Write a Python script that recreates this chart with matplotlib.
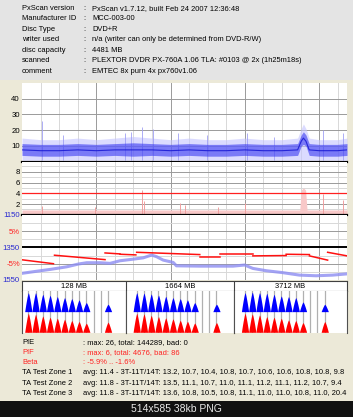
import numpy as np
import matplotlib
matplotlib.use("Agg")
import matplotlib.pyplot as plt
from matplotlib.patches import Rectangle

plt.rcParams['font.family'] = ['Liberation Sans', 'DejaVu Sans']

W, H = 353, 417

# ---- data ----
info_labels = ["PxScan version", "Manufacturer ID", "Disc Type", "writer used",
               "disc capacity", "scanned", "comment"]
info_values = ["PxScan v1.7.12, built Feb 24 2007 12:36:48", "MCC-003-00", "DVD+R",
               "n/a (writer can only be determined from DVD-R/W)", "4481 MB",
               "PLEXTOR DVDR PX-760A 1.06 TLA: #0103 @ 2x (1h25m18s)",
               "EMTEC 8x purn 4x px760v1.06"]

capacity_mb = 4481

# PIE band (MB position, lower haze, dense low, average, dense high, upper haze)
pie_mb   = [0, 256, 512, 768, 1024, 1280, 1536, 1792, 2048, 2304, 2560, 2816, 3072,
            3328, 3584, 3800, 3850, 3880, 3915, 3960, 4096, 4352, 4481]
pie_lo   = [4, 3.5, 3.5, 4, 3.5, 4, 3.5, 4, 3.5, 4, 3.5, 3.5, 4,
            3.5, 3.5, 4, 10, 11, 10, 4, 3.5, 3.5, 4]
pie_avg  = [7.5, 7, 7, 7.5, 7, 7.5, 7.5, 7.5, 7, 7.5, 7, 7, 7.5,
            7, 7, 7.5, 13, 15, 13, 7.5, 7, 7, 7.5]
pie_hi   = [11.5, 11, 11, 11.5, 11, 11.5, 12, 11.5, 11, 11.5, 11, 11, 11.5,
            11, 11, 11.5, 17, 19, 17, 11.5, 11, 11, 11.5]
pie_top  = [15, 14, 14, 15, 14, 15, 16, 15, 14, 15, 14, 14, 15,
            14, 14, 15, 21, 24, 21, 15, 14, 14, 15]
pie_spike_mb  = [275, 560, 1420, 1500, 1650, 1805, 2150, 2550, 3100, 3480, 4150, 4420]
pie_spike_val = [26, 17, 18, 19, 22, 21, 18, 17, 18, 16, 20, 18]

# PIF band and spikes
pif_mb   = [0, 3830, 3850, 3880, 3910, 3930, 4481]
pif_base = [0.9, 0.9, 4.6, 5.0, 4.6, 0.9, 0.9]
pif_spike_mb  = [275, 1010, 1650, 1680, 2180, 2250, 2700, 3070, 4150, 4420]
pif_spike_val = [1.6, 1.4, 4.7, 2.5, 2.2, 1.8, 1.5, 2.2, 3.8, 2.7]
pif_limit = 4

# Beta segments (%)
beta_x0 = [0, 448, 1145, 1351, 1581, 2451, 2726, 3183, 3642, 3963, 4214]
beta_x1 = [434, 1145, 1351, 1570, 2451, 2726, 3183, 3642, 3963, 4214, 4481]
beta_y0 = [-3.8, -2.4, -1.7, -2.1, -1.5, -2.8, -2.0, -2.6, -2.1, -2.6, -1.5]
beta_y1 = [-5.0, -3.75, -2.0, -2.3, -2.2, -2.8, -2.0, -2.5, -2.2, -3.9, -2.6]

# Jitter curve
jit_mb  = [0, 160, 389, 618, 778, 893, 1076, 1214, 1351, 1535, 1672, 1787, 1856,
           1947, 2084, 2130, 2451, 2909, 3070, 3183, 3367, 3596, 3825, 4054, 4283, 4467]
jit_val = [1509, 1499, 1485, 1469, 1452, 1444, 1444, 1448, 1432, 1422, 1414, 1397, 1407,
           1428, 1442, 1463, 1465, 1465, 1458, 1479, 1493, 1505, 1520, 1524, 1520, 1513]

# TA histograms
ta_zones = ["128 MB", "1664 MB", "3712 MB"]
ta_marks = [3, 4, 5, 6, 7, 8, 9, 10, 11, 14]
ta_blue = [[0.92, 0.92, 0.84, 0.79, 0.73, 0.68, 0.63, 0.57, 0.44, 0.36],
           [0.92, 0.90, 0.86, 0.80, 0.74, 0.68, 0.63, 0.57, 0.44, 0.36],
           [0.92, 0.95, 0.92, 0.89, 0.84, 0.76, 0.73, 0.68, 0.47, 0.36]]
ta_red = [[0.92, 0.87, 0.79, 0.73, 0.68, 0.63, 0.57, 0.52, 0.44, 0.49],
          [0.92, 0.89, 0.82, 0.76, 0.70, 0.65, 0.58, 0.53, 0.45, 0.47],
          [0.92, 0.89, 0.84, 0.76, 0.73, 0.68, 0.60, 0.57, 0.47, 0.52]]

stat_labels = ["PIE", "PIF", "Beta", "TA Test Zone 1", "TA Test Zone 2", "TA Test Zone 3"]
stat_values = [": max: 26, total: 144289, bad: 0",
               ": max: 6, total: 4676, bad: 86",
               ": -5.9% .. -1.6%",
               "avg: 11.4 - 3T-11T/14T: 13.2, 10.7, 10.4, 10.8, 10.7, 10.6, 10.6, 10.8, 10.8, 9.8",
               "avg: 11.8 - 3T-11T/14T: 13.5, 11.1, 10.7, 11.0, 11.1, 11.2, 11.1, 11.2, 10.7, 9.4",
               "avg: 11.8 - 3T-11T/14T: 13.6, 10.8, 10.5, 10.8, 11.1, 11.0, 11.0, 10.8, 11.0, 20.4"]
stat_colors = ["black", "#FF2020", "#FF2020", "black", "black", "black"]

# ---- layout helpers (pixel coords, origin top-left) ----
fig = plt.figure(figsize=(W / 100, H / 100), dpi=100)
fig.patch.set_facecolor('#ECE9D8')


def rect(x0, y0, x1, y1):
    return [x0 / W, 1 - y1 / H, (x1 - x0) / W, (y1 - y0) / H]


def ftext(x, y, s, **kw):
    kw.setdefault('fontsize', 5.4)
    kw.setdefault('va', 'center')
    fig.text(x / W, 1 - y / H, s, **kw)


fig.add_artist(Rectangle((0, 1 - 80 / H), 1, 80 / H, transform=fig.transFigure,
                         facecolor='#E4E4E4', edgecolor='none', zorder=-1))
fig.add_artist(Rectangle((0, 0), 1, 16 / H, transform=fig.transFigure,
                         facecolor='#111111', edgecolor='none', zorder=-1))

for i, (lab, val) in enumerate(zip(info_labels, info_values)):
    y = 8.3 + i * 10.5
    ftext(22, y, lab)
    ftext(83, y, ":")
    ftext(92.5, y, val)

GRID_MINOR = '#D8D8D8'
GRID_MAJOR = '#9A9A9A'


def base_axes(y0, y1):
    ax = fig.add_axes(rect(22, y0, 347, y1))
    ax.set_facecolor('white')
    ax.set_xlim(0, capacity_mb)
    ax.set_xticks([])
    for s in ax.spines.values():
        s.set_visible(False)
    ax.tick_params(axis='y', length=0, pad=1.5, labelsize=5.6)
    for xv in np.arange(256, capacity_mb, 256):
        ax.axvline(xv, color=GRID_MAJOR if xv % 1024 == 0 else GRID_MINOR, lw=0.7, zorder=0)
    return ax


# PIE
ax1 = base_axes(83, 161.7)
ax1.set_ylim(0, 50)
for yv in [10, 20, 30, 40]:
    ax1.axhline(yv, color=GRID_MAJOR, lw=0.7, zorder=0)
ax1.set_yticks([10, 20, 30, 40])
ax1.fill_between(pie_mb, 1, pie_top, color='#C4C4FF', alpha=0.6, lw=0, zorder=1)
ax1.vlines(pie_spike_mb, 1, pie_spike_val, color='#A0A0F4', lw=0.6, zorder=1)
ax1.fill_between(pie_mb, pie_lo, pie_hi, color='#3A3AF2', alpha=0.6, lw=0, zorder=2)
ax1.plot(pie_mb, pie_avg, color='#1010D0', lw=0.8, alpha=0.8, zorder=3)
ax1.axhline(0, color='black', lw=1.6, zorder=4, clip_on=False)

# PIF
ax2 = base_axes(161.7, 214.8)
ax2.set_ylim(0, 9.87)
for yv in [1, 3, 5, 7, 9]:
    ax2.axhline(yv, color=GRID_MINOR, lw=0.7, zorder=0)
for yv in [2, 4, 6, 8]:
    ax2.axhline(yv, color=GRID_MAJOR, lw=0.7, zorder=0)
ax2.set_yticks([2, 4, 6, 8])
ax2.fill_between(pif_mb, 0, pif_base, color='#F8C8C8', lw=0, zorder=1)
ax2.vlines(pif_spike_mb, 0, pif_spike_val, color='#F0A0A0', lw=0.7, zorder=1)
ax2.axhline(pif_limit, color='#FF2020', lw=0.9, zorder=3)
ax2.axhline(0, color='black', lw=1.6, zorder=4, clip_on=False)

# Beta / jitter
ax3 = base_axes(214.8, 280)
ax3.set_ylim(-10, 10)
for yv in [-7.5, -2.5, 2.5, 7.5]:
    ax3.axhline(yv, color=GRID_MINOR, lw=0.7, zorder=0)
for yv in [-5, 5]:
    ax3.axhline(yv, color=GRID_MAJOR, lw=0.7, zorder=0)
ax3.axhline(0, color='black', lw=1.4, zorder=0)
ax3.set_yticks([5, -5])
ax3.set_yticklabels(["5%", "-5%"], color='#FF2020')

axj = ax3.twinx()
axj.set_ylim(1550, 1150)
axj.set_xlim(0, capacity_mb)
for s in axj.spines.values():
    s.set_visible(False)
axj.yaxis.set_ticks_position('left')
axj.set_yticks([1150, 1350, 1550])
axj.tick_params(axis='y', length=0, pad=1.5, labelsize=5.6, labelcolor='#2A2AD0')
axj.plot(jit_mb, jit_val, color='#8C8CF2', lw=2.2, alpha=0.8, zorder=2)
for a, b, c, d in zip(beta_x0, beta_x1, beta_y0, beta_y1):
    # beta is plotted in % on ax3's scale, mapped through ax3's transform
    axj.plot([a, b], [c, d], color='#FF1010', lw=1.1, zorder=3, transform=ax3.transData)

# TA section
axh = fig.add_axes(rect(22, 280.7, 347, 291))
axh.set_xlim(22, 347)
axh.set_ylim(0, 1)
axh.set_xticks([])
axh.set_yticks([])
for s in axh.spines.values():
    s.set_color('#404040')
    s.set_linewidth(0.8)
for xv in [126, 234]:
    axh.axvline(xv, color='#404040', lw=0.8)

panels = [(22, 126, 2.13, 16.48), (126, 234, 1.52, 16.42), (234, 347, 1.48, 17.07)]
half = 0.5
for k, (x0, x1, lo, hi) in enumerate(panels):
    ftext((x0 + x1) / 2, 286, ta_zones[k], ha='center')
    ax = fig.add_axes(rect(x0, 291, x1, 333))
    ax.set_facecolor('white')
    ax.set_xlim(lo, hi)
    ax.set_ylim(-0.034, 2.0)
    ax.set_xticks([])
    ax.set_yticks([])
    for side in ['top', 'bottom']:
        ax.spines[side].set_visible(False)
    for side in ['left', 'right']:
        ax.spines[side].set_color('#505050')
        ax.spines[side].set_linewidth(0.8)
    for n in range(3, 15):
        ax.axvline(n, color='#B0B0B0', lw=0.9, zorder=0)
    for c, hb, hr in zip(ta_marks, ta_blue[k], ta_red[k]):
        xs = np.linspace(c - half, c + half, 60)
        u = (xs - c) / half
        shape = np.clip(1 - np.abs(u) ** 1.3, 0, None)
        ax.fill_between(xs, 1.0, 1.0 + hb * shape, color='#0000FF', lw=0, zorder=2)
        ax.fill_between(xs, 0.0, hr * shape, color='#FF0000', lw=0, zorder=2)

for i, (lab, val, col) in enumerate(zip(stat_labels, stat_values, stat_colors)):
    y = 342.3 + i * 10.2
    ftext(22, y, lab, color=col)
    ftext(83, y, val, color=col)

ftext(W / 2, 409, "514x585 38kb PNG", ha='center', color='#E8E8E8', fontsize=7.5)

fig.savefig("out.png", dpi=100, facecolor=fig.get_facecolor())
